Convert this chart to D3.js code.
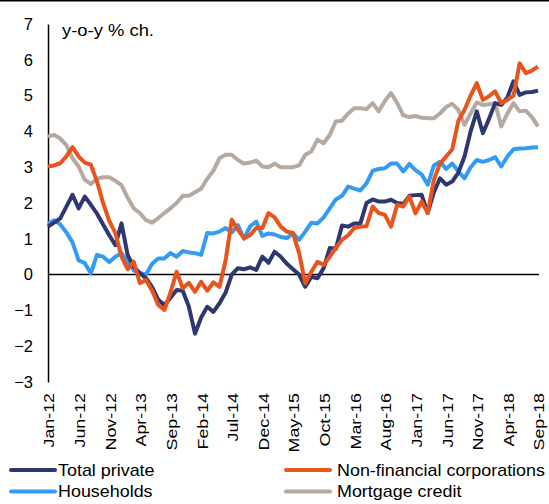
<!DOCTYPE html>
<html>
<head>
<meta charset="utf-8">
<script src="https://cdn.jsdelivr.net/npm/d3@7"></script>
<style>
  body { margin: 0; background: #fff; }
  text { font-family: "Liberation Sans", Arial, sans-serif; fill: #000; }
</style>
</head>
<body>
<svg id="chart" width="549" height="504"></svg>
<script>
// ---- data (monthly, Jan-12 .. Sep-18), y-o-y % change ----
const startMonth = new Date(2012, 0, 1);
const endMonth = new Date(2018, 8, 1);
const tickLabels = ["Jan-12","Jun-12","Nov-12","Apr-13","Sep-13","Feb-14","Jul-14","Dec-14",
  "May-15","Oct-15","Mar-16","Aug-16","Jan-17","Jun-17","Nov-17","Apr-18","Sep-18"];
const yTicks = [-3,-2,-1,0,1,2,3,4,5,6,7];

const totalPrivate = [1.34,1.45,1.57,1.9,2.23,1.85,2.18,1.95,1.7,1.4,
  1.1,0.82,1.43,0.55,0.22,0.04,-0.1,-0.35,-0.7,-0.85,
  -0.65,-0.43,-0.45,-0.9,-1.65,-1.2,-0.9,-1.04,-0.8,-0.5,
  0.0,0.18,0.15,0.2,0.13,0.5,0.33,0.64,0.5,0.3,
  0.15,0.0,-0.34,-0.06,-0.1,0.18,0.74,0.72,1.37,1.34,
  1.43,1.43,2.0,2.1,2.04,2.04,2.09,2.0,1.97,2.2,
  2.22,2.23,1.72,2.3,2.69,2.51,2.6,2.85,3.3,4.0,
  4.56,3.95,4.35,4.79,4.74,4.95,5.4,5.02,5.09,5.1,5.14];

const nonFinancial = [3.02,3.05,3.11,3.3,3.56,3.3,3.13,3.07,2.6,2.0,
  1.5,1.16,0.5,0.15,0.36,-0.24,-0.15,-0.45,-0.85,-0.99,
  -0.5,0.08,-0.38,-0.23,-0.48,-0.2,-0.45,-0.22,-0.34,0.4,
  1.53,1.25,1.02,1.1,1.3,1.3,1.72,1.6,1.34,1.2,
  1.16,0.6,-0.24,0.08,0.36,0.27,0.5,0.75,0.97,1.1,
  1.3,1.34,1.35,1.9,1.72,1.67,1.34,1.95,1.9,2.18,
  1.71,2.04,1.72,2.65,3.1,3.3,3.5,4.3,4.6,5.0,
  5.35,4.88,4.98,5.12,4.79,4.88,5.0,5.9,5.63,5.7,5.81];

const households = [1.43,1.52,1.4,1.18,0.9,0.4,0.32,0.04,0.55,0.5,
  0.35,0.5,0.6,0.35,0.12,0.05,0.0,0.3,0.45,0.45,
  0.6,0.5,0.66,0.62,0.6,0.55,1.16,1.15,1.2,1.3,
  1.18,1.38,1.0,1.35,1.48,1.08,1.15,1.12,1.05,1.02,
  1.15,0.97,1.2,1.45,1.43,1.6,1.85,2.1,2.2,2.46,
  2.4,2.35,2.55,2.9,2.95,2.97,3.1,3.1,2.88,3.09,
  2.92,2.8,2.51,3.05,3.15,2.95,3.1,2.88,2.69,3.0,
  3.2,3.15,3.2,3.28,3.02,3.3,3.5,3.52,3.53,3.55,3.56];

const mortgage = [3.86,3.9,3.8,3.62,3.25,3.02,2.65,2.53,2.68,2.72,
  2.72,2.62,2.5,2.15,1.85,1.72,1.52,1.45,1.58,1.72,
  1.85,2.0,2.2,2.2,2.3,2.4,2.68,2.9,3.25,3.35,
  3.35,3.2,3.1,3.13,3.18,3.02,3.0,3.1,3.0,3.0,
  3.0,3.05,3.35,3.44,3.77,3.67,3.9,4.28,4.3,4.5,
  4.65,4.65,4.62,4.79,4.56,4.85,5.07,4.8,4.45,4.4,
  4.43,4.38,4.37,4.37,4.5,4.68,4.77,4.6,4.18,4.5,
  4.81,4.74,4.76,4.79,4.14,4.5,4.79,4.56,4.58,4.4,4.14];

const seriesNames = ["Total private","Non-financial corporations","Households","Mortgage credit"];
const seriesColors = ["#2E3770","#E8541C","#339CF2","#B5A9A0"];

// ---- setup ----
const months = d3.timeMonth.range(startMonth, d3.timeMonth.offset(endMonth, 1));
const fmt = d3.timeFormat("%b-%y");
const svg = d3.select("#chart");

const x = d3.scalePoint().domain(months.map(fmt)).range([48, 538]);
const y = d3.scaleLinear().domain([-3, 7]).range([382, 24]);

// top border
svg.append("line").attr("x1", 0).attr("x2", 549).attr("y1", 0.75).attr("y2", 0.75)
  .attr("stroke", "#000").attr("stroke-width", 1.5);

// y axis
const yAxis = svg.append("g").attr("transform", "translate(48,0)")
  .call(d3.axisLeft(y).tickValues(yTicks).tickFormat(d3.format("d"))
    .tickSizeInner(0).tickSizeOuter(0).tickPadding(15));
yAxis.select(".domain").attr("stroke", "#000").attr("stroke-width", 1.5);
yAxis.selectAll(".tick text")
  .attr("font-family", "Liberation Sans, Arial, sans-serif")
  .attr("font-size", 16.5)
  .attr("fill", "#000");

// zero line
svg.append("line").attr("x1", 48).attr("x2", 539)
  .attr("y1", y(0)).attr("y2", y(0))
  .attr("stroke", "#000").attr("stroke-width", 1.5);

// x labels (rotated)
svg.append("g").selectAll("text").data(tickLabels).join("text")
  .attr("transform", d => `translate(${x(d) + 1},393) rotate(-90) scale(1.15,1)`)
  .attr("text-anchor", "end")
  .attr("dy", "0.35em")
  .attr("font-size", 15.5)
  .text(d => d);

// unit label
svg.append("text")
  .attr("transform", "translate(62,36) scale(1.15,1)")
  .attr("font-size", 16)
  .text("y-o-y % ch.");

// lines
const allSeries = [totalPrivate, nonFinancial, households, mortgage];
const drawOrder = [3, 2, 0, 1];
const line = d3.line()
  .x((d, i) => x(fmt(months[i])))
  .y(d => y(d));
svg.append("g").selectAll("path").data(drawOrder).join("path")
  .attr("d", k => line(allSeries[k]))
  .attr("fill", "none")
  .attr("stroke", k => seriesColors[k])
  .attr("stroke-width", 4)
  .attr("stroke-linejoin", "round")
  .attr("stroke-linecap", "butt");

// legend
const legendPos = [[10, 470], [285, 470], [10, 491.5], [285, 491.5]];
const lg = svg.append("g").selectAll("g").data(seriesNames).join("g")
  .attr("transform", (d, i) => `translate(${legendPos[i][0]},${legendPos[i][1]})`);
lg.append("line").attr("x1", 1).attr("x2", 45).attr("y1", 0).attr("y2", 0)
  .attr("stroke", (d, i) => seriesColors[i]).attr("stroke-width", 4)
  .attr("stroke-linecap", "round");
lg.append("text")
  .attr("transform", (d, i) => `translate(${i % 2 ? 52 : 48},0) scale(1.12,1)`)
  .attr("dy", "0.36em")
  .attr("font-size", 16)
  .text(d => d);
</script>
</body>
</html>
